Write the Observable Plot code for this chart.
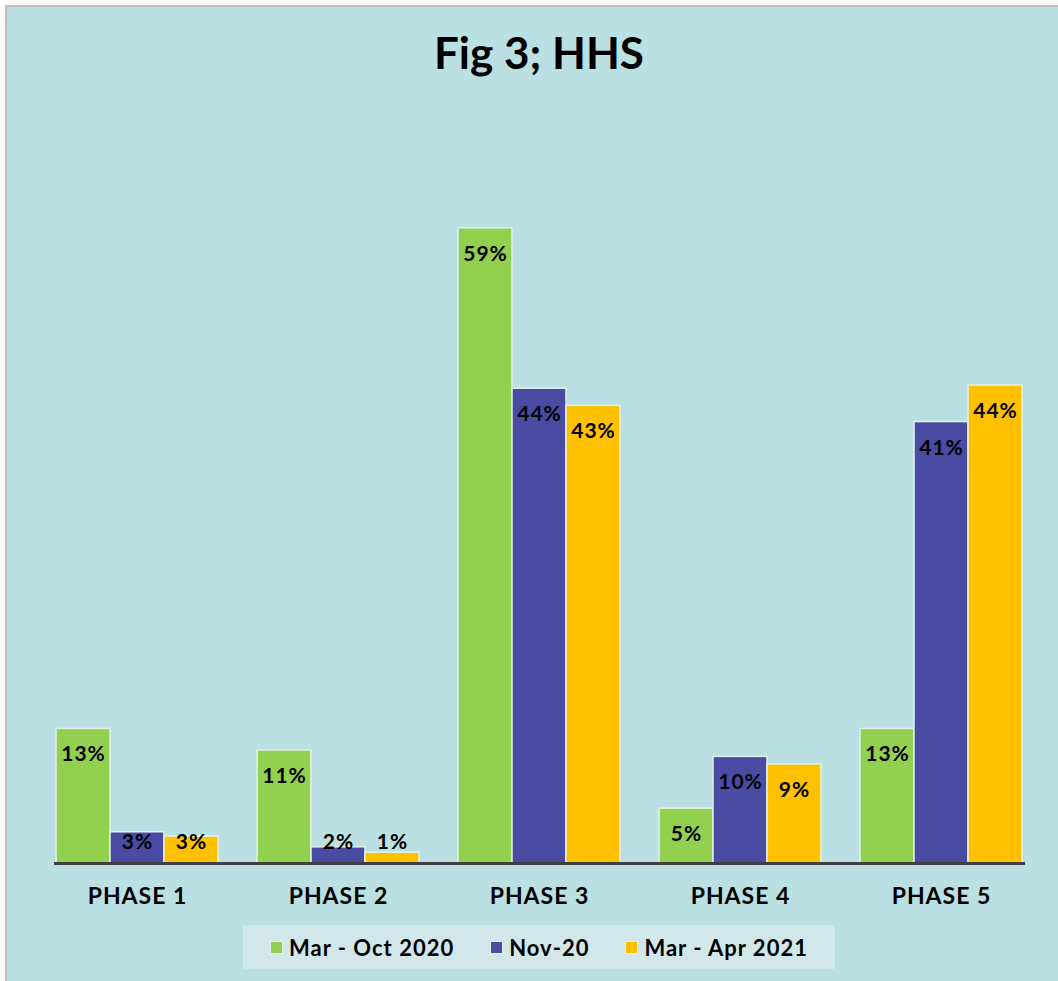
<!DOCTYPE html>
<html><head><meta charset="utf-8">
<script src="https://cdn.jsdelivr.net/npm/d3@7"></script>
<script src="https://cdn.jsdelivr.net/npm/@observablehq/plot@0.6"></script>
<style>
html,body{margin:0;padding:0;background:#fff;overflow:hidden;width:1058px;height:981px;position:relative;font-family:Lato,"DejaVu Sans",sans-serif;}
#panel{position:absolute;left:5px;top:5px;width:1100px;height:1000px;border:2px solid #bfbfbf;background:#bae0e3;}
#title{position:absolute;left:0;top:25px;width:1078px;text-align:center;font-weight:bold;font-size:44px;line-height:54px;color:#000;}
#chart{position:absolute;left:0;top:100px;}
#legend{position:absolute;left:243px;top:925px;width:592px;height:44px;background:#d2e7ea;display:flex;align-items:center;justify-content:center;gap:36px;font-weight:bold;font-size:22px;letter-spacing:1px;color:#000;}
.item{display:flex;align-items:center;}
.sw{width:11px;height:11px;margin-right:6px;border:1px solid #e4f1e8;}
</style>
</head><body>
<div id="panel"></div>
<div id="title">Fig 3; HHS</div>
<div id="chart"></div>
<div id="legend"></div>
<script>
const phases = ["PHASE 1", "PHASE 2", "PHASE 3", "PHASE 4", "PHASE 5"];
const series = ["Mar - Oct 2020", "Nov-20", "Mar - Apr 2021"];
const colors = ["#92d050", "#4a4ba3", "#ffc000"];
const marOct2020 = [12.5, 10.5, 59.0, 5.1, 12.5];
const nov20 = [2.9, 1.5, 44.1, 9.9, 41.0];
const marApr2021 = [2.5, 1.0, 42.5, 9.2, 44.4];

const seriesValues = [marOct2020, nov20, marApr2021];
const rows = [];
phases.forEach((p, i) => series.forEach((s, j) => rows.push({phase: p, series: s, value: seriesValues[j][i]})));

const chart = Plot.plot({
  width: 1058, height: 810,
  marginTop: 117, marginBottom: 47, marginLeft: 36, marginRight: 15,
  style: {background: "transparent", fontFamily: "Lato, sans-serif", fontWeight: "bold", fontSize: "23px", letterSpacing: "1px", color: "#000", overflow: "visible"},
  fx: {domain: phases, paddingInner: 0.184, paddingOuter: 0.09, label: null, axis: "bottom", tickSize: 0, tickPadding: 24},
  x: {domain: series, padding: 0, axis: null},
  y: {domain: [0, 60], axis: null},
  color: {domain: series, range: colors},
  marks: [
    Plot.barY(rows, {fx: "phase", x: "series", y: "value", fill: "series", stroke: "#e4f1e8", strokeWidth: 1.5}),
    Plot.frame({anchor: "bottom", stroke: "#404040", strokeWidth: 3, facet: "super"}),
    Plot.text(rows, {fx: "phase", x: "series", y: d => Math.max(d.value - 2.4, 1.95), text: d => Math.round(d.value) + "%", fontSize: 21, fontWeight: "bold", fill: "#000"})
  ]
});
document.getElementById("chart").appendChild(chart);

const legend = document.getElementById("legend");
series.forEach((s, j) => {
  const it = document.createElement("div"); it.className = "item";
  const sw = document.createElement("div"); sw.className = "sw"; sw.style.background = colors[j];
  const t = document.createElement("span"); t.textContent = s;
  it.appendChild(sw); it.appendChild(t); legend.appendChild(it);
});
</script>
</body></html>
